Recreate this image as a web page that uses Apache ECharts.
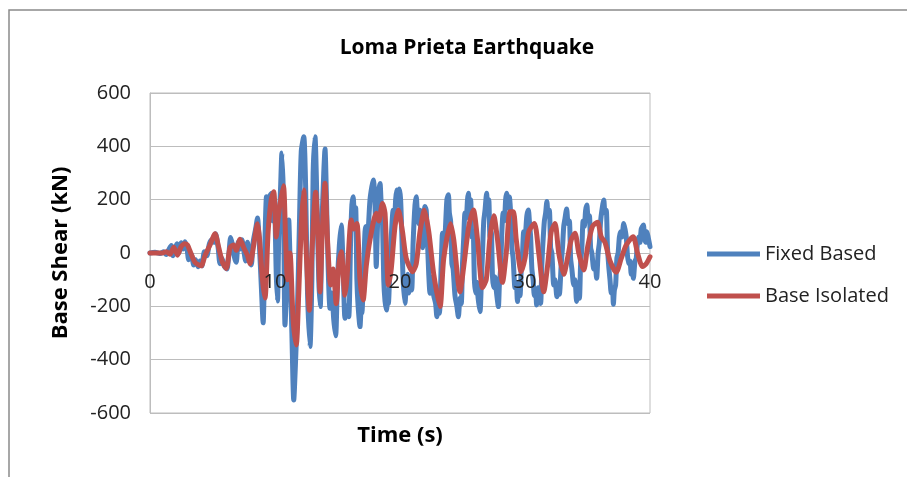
<!DOCTYPE html>
<html>
<head>
<meta charset="utf-8">
<script src="https://cdn.jsdelivr.net/npm/echarts@6/dist/echarts.min.js"></script>
<style>
  html, body { margin: 0; padding: 0; background: #ffffff; }
  #chart { width: 907px; height: 477px; }
</style>
</head>
<body>
<div id="chart"></div>
<script>
// Base shear time histories under the Loma Prieta record: [time (s), shear (kN)]
const fixedBased = [
  [0,0],[0.4,3],[0.8,-2],[1.1,5],[1.3,-6],[1.5,12],[1.7,28],[1.85,-10],[2.0,15],[2.15,35],[2.3,0],[2.5,38],[2.65,15],[2.8,42],[2.95,20],
  [3.1,-25],[3.3,-5],[3.5,-45],[3.65,-25],[3.85,-52],[4.0,-30],[4.15,-48],[4.35,5],[4.55,-10],[4.75,35],[4.95,50],[5.1,40],[5.25,72],
  [5.45,20],[5.6,-40],[5.75,-20],[5.95,-50],[6.15,-60],[6.3,-10],[6.45,58],[6.6,30],[6.75,-15],[6.9,-35],[7.05,40],[7.2,15],[7.35,50],
  [7.5,10],[7.65,-30],[7.8,40],[7.95,-20],[8.1,-45],[8.25,40],[8.45,90],[8.6,131],[8.75,30],[8.9,-120],[9.05,-262],[9.2,50],[9.32,211],
  [9.45,150],[9.6,215],[9.73,224],[9.85,120],[9.95,200],[10.1,-80],[10.2,-180],[10.3,60],[10.45,250],[10.55,375],[10.68,200],[10.8,-270],
  [10.95,-100],[11.1,124],[11.2,-20],[11.35,-300],[11.5,-551],[11.65,-400],[11.8,-200],[11.95,100],[12.1,380],[12.3,436],[12.45,250],
  [12.6,-150],[12.8,-351],[12.95,-100],[13.05,300],[13.2,436],[13.35,200],[13.5,-100],[13.62,-201],[13.75,100],[13.9,300],[14.0,390],
  [14.12,200],[14.25,-50],[14.4,-207],[14.55,-150],[14.7,-250],[14.85,-310],[15.0,-100],[15.15,30],[15.3,105],[15.45,-50],[15.6,-245],
  [15.75,-200],[15.9,-239],[16.05,50],[16.15,180],[16.25,211],[16.35,150],[16.45,170],[16.55,-100],[16.65,-200],[16.8,-276],[16.9,-200],
  [16.95,-226],[17.1,-50],[17.2,80],[17.28,99],[17.4,30],[17.5,120],[17.6,200],[17.75,250],[17.87,274],[18.0,180],[18.1,-51],[18.2,100],
  [18.3,230],[18.4,261],[18.5,180],[18.6,120],[18.7,-100],[18.8,-180],[18.93,-214],[19.0,-150],[19.07,-190],[19.2,-40],[19.3,60],
  [19.45,160],[19.55,110],[19.65,200],[19.73,236],[19.85,180],[19.95,240],[20.05,200],[20.15,60],[20.25,-100],[20.4,-189],[20.5,-120],
  [20.6,-80],[20.7,-150],[20.8,-120],[20.93,-139],[21.05,40],[21.2,180],[21.3,211],[21.4,140],[21.5,110],[21.6,160],[21.7,40],[21.8,20],
  [21.9,120],[22.0,174],[22.1,160],[22.2,40],[22.3,-80],[22.4,-151],[22.5,-90],[22.6,-110],[22.7,-160],[22.85,-190],[22.95,-239],
  [23.05,-200],[23.15,-226],[23.3,-40],[23.4,74],[23.5,20],[23.6,60],[23.75,200],[23.87,218],[23.95,150],[24.05,120],[24.15,-40],
  [24.25,-60],[24.4,-160],[24.55,-200],[24.67,-239],[24.8,-170],[24.9,-190],[25.0,-40],[25.1,60],[25.2,150],[25.3,130],[25.4,200],
  [25.47,224],[25.55,180],[25.65,200],[25.75,60],[25.85,80],[25.95,-100],[26.05,-150],[26.15,-110],[26.25,-170],[26.4,-220],[26.5,-120],
  [26.6,0],[26.7,120],[26.8,160],[26.93,224],[27.0,180],[27.1,200],[27.2,60],[27.3,80],[27.4,-90],[27.5,-130],[27.6,-90],[27.7,-140],
  [27.87,-201],[27.95,-120],[28.05,-60],[28.15,80],[28.25,150],[28.35,120],[28.45,200],[28.53,224],[28.65,170],[28.75,210],[28.85,150],
  [28.95,20],[29.05,-20],[29.2,-130],[29.3,-110],[29.4,-182],[29.5,-140],[29.6,-160],[29.7,-60],[29.8,0],[29.9,80],[30.0,60],[30.15,140],
  [30.27,161],[30.35,120],[30.45,60],[30.55,-60],[30.65,-100],[30.75,-160],[30.85,-140],[30.93,-195],[31.05,-130],[31.15,-160],
  [31.25,-189],[31.35,-40],[31.45,50],[31.55,120],[31.65,150],[31.75,193],[31.85,140],[31.95,160],[32.05,20],[32.15,0],[32.3,-120],
  [32.4,-100],[32.55,-164],[32.65,-120],[32.75,-155],[32.9,-40],[33.0,20],[33.1,100],[33.2,130],[33.33,165],[33.45,110],[33.55,120],
  [33.65,-20],[33.75,-60],[33.9,-120],[34.0,-100],[34.13,-182],[34.25,-150],[34.35,-170],[34.45,-40],[34.55,20],[34.65,120],[34.75,100],
  [34.85,160],[34.95,180],[35.05,130],[35.15,140],[35.25,20],[35.35,0],[35.5,-60],[35.6,-40],[35.73,-95],[35.85,0],[35.95,40],[36.05,120],
  [36.15,160],[36.3,199],[36.4,150],[36.5,160],[36.6,20],[36.7,-50],[36.8,-100],[36.9,-150],[37.0,-130],[37.07,-192],[37.15,-140],
  [37.25,-120],[37.35,-20],[37.45,0],[37.55,60],[37.65,80],[37.75,60],[37.9,111],[38.0,90],[38.1,60],[38.2,-10],[38.3,-40],[38.4,-30],
  [38.5,-80],[38.6,-60],[38.67,-95],[38.8,-30],[38.9,-20],[39.0,40],[39.1,60],[39.2,40],[39.3,90],[39.47,105],[39.55,60],[39.65,40],
  [39.75,80],[39.85,60],[40,24]
];

const baseIsolated = [
  [0,0],[1.0,0],[1.3,5],[1.6,-5],[1.9,22],[2.2,-8],[2.5,25],[2.8,35],[3.0,30],[3.3,-5],[3.6,-35],[3.9,-45],[4.1,-48],[4.4,-10],[4.8,30],
  [5.2,72],[5.5,20],[5.8,-35],[6.1,-58],[6.4,20],[6.7,30],[6.9,10],[7.2,52],[7.5,20],[7.8,-10],[8.0,-40],[8.3,30],[8.6,110],[8.75,60],
  [9.0,-100],[9.2,-169],[9.45,80],[9.7,200],[9.9,230],[10.1,60],[10.3,150],[10.67,252],[10.85,50],[11.0,-100],[11.2,0],[11.45,-250],
  [11.7,-345],[11.9,-150],[12.1,100],[12.3,236],[12.5,0],[12.75,-215],[12.95,0],[13.25,228],[13.45,50],[13.6,-146],[13.8,100],[14.0,262],
  [14.2,50],[14.45,-120],[14.65,-60],[14.9,-190],[15.1,-50],[15.3,5],[15.6,-158],[15.75,-100],[16.1,124],[16.3,90],[16.55,111],[16.8,-100],
  [17.05,-176],[17.3,-50],[17.6,50],[18.1,149],[18.3,120],[18.6,186],[18.8,150],[19.07,-120],[19.3,-60],[19.6,100],[19.87,161],[20.2,80],
  [20.5,-20],[21.0,-70],[21.3,-40],[21.6,80],[21.95,160],[22.3,80],[22.7,-80],[23.2,-201],[23.5,-20],[24.05,110],[24.3,50],[24.8,-145],
  [25.1,-50],[25.5,100],[25.87,161],[26.2,50],[26.6,-130],[26.9,-100],[27.2,60],[27.5,140],[27.8,50],[28.2,-110],[28.5,0],[28.8,155],
  [29.07,155],[29.3,50],[29.7,-70],[30.0,-20],[30.3,80],[30.75,111],[31.1,0],[31.5,-145],[31.8,-50],[32.1,80],[32.4,111],[32.7,0],
  [33.1,-80],[33.4,-20],[33.7,50],[34.0,74],[34.3,0],[34.7,-64],[35.0,20],[35.4,100],[35.8,115],[36.1,60],[36.4,40],[36.8,-30],[37.3,-72],
  [37.7,-20],[38.1,30],[38.65,61],[39.0,0],[39.4,-51],[39.7,-40],[40,-14]
];

const seriesNames = ['Fixed Based', 'Base Isolated'];
const seriesColors = ['#4f81bd', '#c0504d'];
const timeTicks = [0, 10, 20, 30, 40];
const shearTicks = [-600, -400, -200, 0, 200, 400, 600];

const font = '"Open Sans", "Noto Sans", sans-serif';
const chart = echarts.init(document.getElementById('chart'), null, { renderer: 'canvas' });

chart.setOption({
  backgroundColor: '#ffffff',
  animation: false,
  title: {
    text: 'Loma Prieta Earthquake',
    left: 462, top: 33, textAlign: 'center',
    textStyle: { fontFamily: font, fontSize: 21, fontWeight: 'bold', color: '#000' }
  },
  legend: {
    orient: 'vertical', left: 702, top: 239, itemGap: 22,
    itemWidth: 53, itemHeight: 5, icon: 'rect',
    data: seriesNames,
    textStyle: { fontFamily: font, fontSize: 20, color: '#222' }
  },
  graphic: [{
    type: 'rect', silent: true,
    shape: { x: 9, y: 10, width: 930, height: 500 },
    style: { fill: 'none', stroke: '#8a8a8a', lineWidth: 1.5 }
  }],
  grid: {
    left: 150, right: 257, top: 93, bottom: 64,
    containLabel: false, outerBoundsMode: 'none',
    show: true, borderColor: '#bdbdbd', borderWidth: 1
  },
  xAxis: {
    type: 'value', min: timeTicks[0], max: timeTicks[timeTicks.length - 1], interval: 10,
    z: 10,
    name: 'Time (s)', nameLocation: 'middle', nameGap: 12,
    nameTextStyle: { fontFamily: font, fontSize: 22, fontWeight: 'bold', color: '#000' },
    axisLine: { show: false, onZero: false },
    axisTick: { show: false },
    axisLabel: { fontFamily: font, fontSize: 20, color: '#222', margin: -141 },
    splitLine: { show: false }
  },
  yAxis: {
    type: 'value', min: shearTicks[0], max: shearTicks[shearTicks.length - 1], interval: 200,
    name: 'Base Shear (kN)', nameLocation: 'middle', nameGap: 78, nameRotate: 90,
    nameTextStyle: { fontFamily: font, fontSize: 22, fontWeight: 'bold', color: '#000' },
    axisLine: { show: true, lineStyle: { color: '#bdbdbd' } },
    axisTick: { show: false },
    axisLabel: { fontFamily: font, fontSize: 20, color: '#222', margin: 19 },
    splitLine: { show: true, lineStyle: { color: '#bdbdbd', width: 1 } }
  },
  series: [
    {
      name: seriesNames[0], type: 'line', data: fixedBased,
      showSymbol: false, smooth: 0.25, color: seriesColors[0],
      lineStyle: { width: 5, color: seriesColors[0], join: 'round', cap: 'round' }, z: 2
    },
    {
      name: seriesNames[1], type: 'line', data: baseIsolated,
      showSymbol: false, smooth: 0.25, color: seriesColors[1],
      lineStyle: { width: 5, color: seriesColors[1], join: 'round', cap: 'round' }, z: 3
    }
  ]
});
</script>
</body>
</html>
